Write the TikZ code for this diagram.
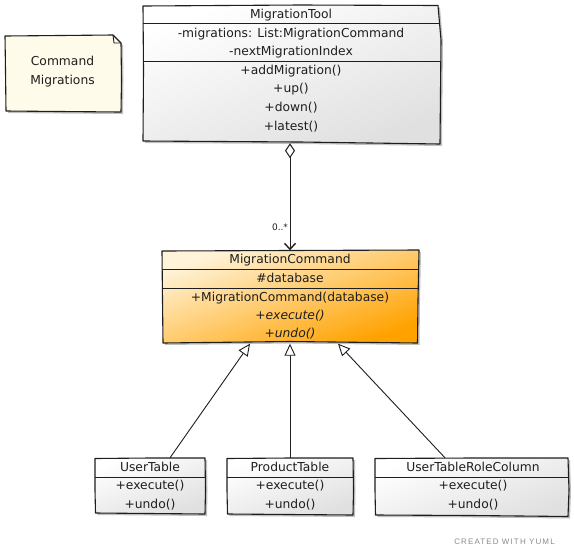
\documentclass[tikz,border=0pt]{standalone}
\usepackage{fontspec}
\setmainfont{DejaVu Sans}
\newfontfamily\footfont[LetterSpace=14]{Liberation Sans}
\usetikzlibrary{arrows.meta,shadows}
\definecolor{ink}{HTML}{1E1E1E}
\definecolor{notefill}{HTML}{FFFBEA}
\definecolor{cmdlight}{HTML}{FFF4DA}
\definecolor{cmddark}{HTML}{FFA200}
\definecolor{boxlight}{HTML}{FFFFFF}
\definecolor{boxdark}{HTML}{E0E0E0}
\tikzset{
  outline/.style={draw=ink, line width=1.1pt, line join=round},
  grayfill/.style={top color=boxlight, bottom color=boxdark, shading angle=20},
  orangefill/.style={top color=cmdlight, bottom color=cmddark, shading angle=20},
  boxshadow/.style={drop shadow={shadow xshift=2pt, shadow yshift=-2pt, opacity=0.25, fill=black}},
  sep/.style={draw=ink, line width=0.9pt},
  frame/.style={inner sep=0pt, draw=none},
  txt/.style={text=ink, font=\fontsize{12.3}{14}\selectfont, inner sep=0pt,
              text height=9pt, text depth=2.5pt},
  assoc/.style={draw=ink, line width=1pt,
    {Diamond[open, fill=white, length=15pt, width=10pt, line width=1pt]}-{Straight Barb[length=6pt, width=11pt, line width=1.4pt]}},
  inherit/.style={draw=ink, line width=0.9pt,
    -{Triangle[open, fill=white, length=12pt, width=11pt, line width=0.9pt]}},
}
\begin{document}
\begin{tikzpicture}[x=1pt, y=-1pt]
\useasboundingbox[fill=white] (0,0) rectangle (574,558);

% ---- note ----
\node[frame, minimum width=116pt, minimum height=76pt] (note) at (63,73.5) {};
\path[outline, fill=notefill, boxshadow]
  (5,36) -- (60,35.5) -- (113,35) -- (121,43) -- (121.5,80) -- (121,112) -- (60,111.5) -- (6,111) -- (5.5,70) -- cycle;
\draw[ink, line width=0.9pt] (113,35) -- (114,43) -- (121,43);
\node[txt] (noteA) at (62.5,62.5) {Command};
\node[txt] (noteB) at (62.5,81.5) {Migrations};

% ---- MigrationTool ----
\node[frame, minimum width=297pt, minimum height=138pt] (tool) at (291.5,74) {};
\path[outline, grayfill, boxshadow]
  (143,6) -- (300,5) -- (438,5.5) -- (441,40) -- (440,144) -- (300,142) -- (143,141) -- (143.5,70) -- cycle;
\draw[sep] (143,23) -- (439,23);
\draw[sep] (143,61.5) -- (440,61.5);
\node[txt] (toolT) at (291,15) {MigrationTool};
\node[txt] (toolA1) at (291,34) {-migrations: List:MigrationCommand};
\node[txt] (toolA2) at (291,52.5) {-nextMigrationIndex};
\node[txt] (toolM1) at (291,71) {+addMigration()};
\node[txt] (toolM2) at (291,89.5) {+up()};
\node[txt] (toolM3) at (291,108) {+down()};
\node[txt] (toolM4) at (291,127) {+latest()};

% ---- MigrationCommand ----
\node[frame, minimum width=257pt, minimum height=93pt] (cmd) at (290,297) {};
\path[outline, orangefill, boxshadow]
  (162,251) -- (290,250.5) -- (419,250) -- (418,300) -- (417.5,343) -- (290,341.5) -- (163,343) -- (162.5,300) -- cycle;
\draw[sep] (162,269.5) -- (418.5,269.5);
\draw[sep] (162,288) -- (418,288);
\node[txt] (cmdT) at (290,260.5) {MigrationCommand};
\node[txt] (cmdA1) at (290,279.5) {\#database};
\node[txt] (cmdM1) at (290,298.5) {+MigrationCommand(database)};
\node[txt] (cmdM2) at (290,316) {\itshape +execute()};
\node[txt] (cmdM3) at (290,334.5) {\itshape +undo()};

% ---- UserTable ----
\node[frame, minimum width=110pt, minimum height=56pt] (ut) at (150,486) {};
\path[outline, grayfill, boxshadow]
  (95,458.5) -- (150,458) -- (205,458) -- (205.5,490) -- (205,514) -- (150,513.5) -- (95.5,513) -- (95,490) -- cycle;
\draw[sep] (95,477) -- (205,477);
\node[txt] (utT) at (150,468) {UserTable};
\node[txt] (utM1) at (150,486.5) {+execute()};
\node[txt] (utM2) at (150,505) {+undo()};

% ---- ProductTable ----
\node[frame, minimum width=127pt, minimum height=57pt] (pt) at (290,486.5) {};
\path[outline, grayfill, boxshadow]
  (227,458.5) -- (290,458) -- (353,458) -- (353.5,490) -- (353,515) -- (290,514.5) -- (227.5,514) -- (227,490) -- cycle;
\draw[sep] (227,477) -- (353,477);
\node[txt] (ptT) at (290,468) {ProductTable};
\node[txt] (ptM1) at (290,486.5) {+execute()};
\node[txt] (ptM2) at (290,505) {+undo()};

% ---- UserTableRoleColumn ----
\node[frame, minimum width=194pt, minimum height=58pt] (utrc) at (472,487) {};
\path[outline, grayfill, boxshadow]
  (375,458.5) -- (472,458) -- (568,458) -- (569,490) -- (568,516.5) -- (472,515.5) -- (375.5,515) -- (375,490) -- cycle;
\draw[sep] (375,477) -- (568.5,477);
\node[txt] (utrcT) at (473,468) {UserTableRoleColumn};
\node[txt] (utrcM1) at (473,486.5) {+execute()};
\node[txt] (utrcM2) at (473,505) {+undo()};

% ---- connectors ----
\draw[assoc] (tool.south -| cmd.north) -- (cmd.north);
\node[text=ink, font=\fontsize{9}{10}\selectfont, inner sep=0pt] (mult) at (280,227.5) {0..*};

\draw[inherit] ([xshift=20pt]ut.north) -- ([xshift=-40pt]cmd.south);
\draw[inherit] (pt.north) -- (cmd.south);
\draw[inherit] ([xshift=-27pt]utrc.north) -- ([xshift=48pt]cmd.south);

% ---- footer ----
\node[text=black!45, font=\footfont\fontsize{8}{9}\selectfont, inner sep=0pt] (credit) at (504.5,541.5) {CREATED WITH YUML};
\end{tikzpicture}
\end{document}
